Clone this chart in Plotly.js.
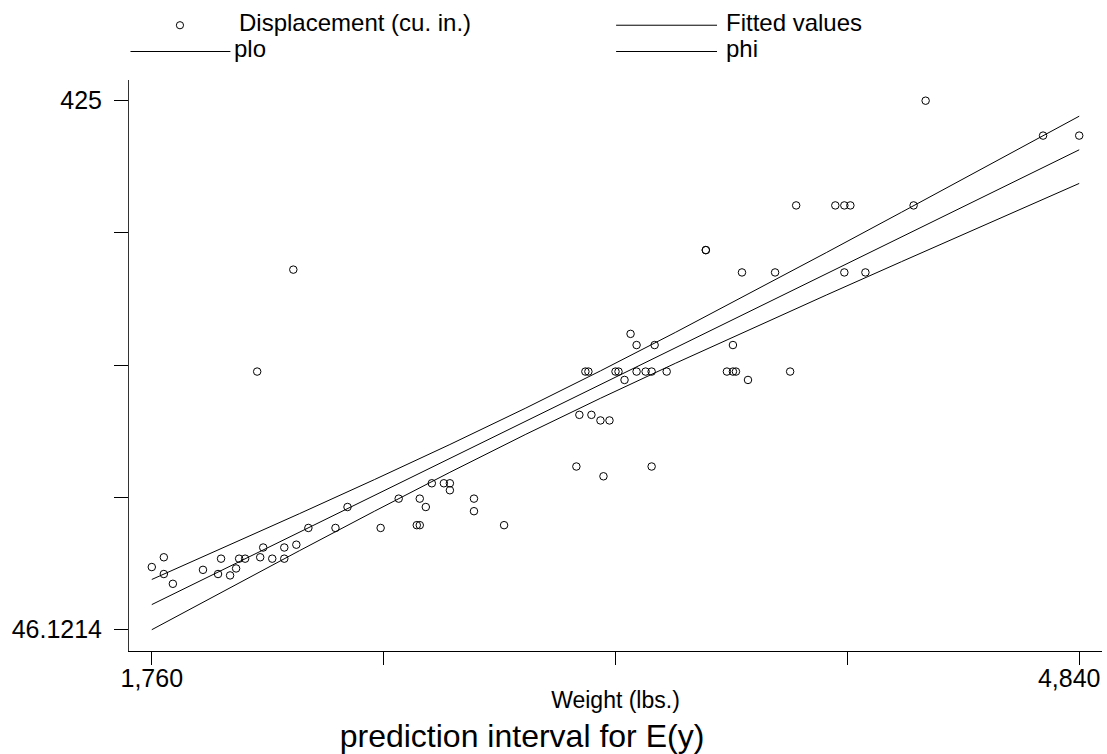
<!DOCTYPE html>
<html><head><meta charset="utf-8">
<script src="https://cdn.plot.ly/plotly-3.0.1.min.js"></script>
<style>html,body{margin:0;padding:0;background:#fff}#chart{width:1107px;height:754px}</style>
</head><body><div id="chart"></div>
<script>
// ---- data (auto: weight vs displacement) ----
const weight = [2930,3350,2640,3250,4080,3670,2230,3280,3880,3400,
  4330,3900,4290,2110,3690,3180,3220,2750,3430,2120,
  3600,3600,3740,1800,2650,4720,4840,3830,2580,4060,
  3720,3370,4130,2830,4060,3310,3300,3690,3370,2730,
  4030,3260,1800,2200,2520,3330,3700,3470,3210,3200,
  3420,2690,2830,2070,2650,2370,2020,2280,2750,2130,
  2240,1760,1980,3420,1830,2050,2410,2200,2670,2160,
  2040,1930,1990,3170];
const displacement = [121,258,121,196,350,231,304,196,231,231,
  425,350,350,231,250,200,200,151,250,98,
  318,318,225,98,140,400,400,302,140,302,
  302,250,302,140,350,231,231,231,231,151,
  350,156,86,105,119,225,231,231,231,231,
  231,151,131,97,121,119,85,119,146,105,
  107,91,86,163,79,97,134,97,134,97,
  90,89,97,163];
const lineWeight   = [1760,2000,2250,2500,2750,3000,3250,3500,3750,4000,4250,4500,4840];
const fittedValues = [64.11,89.49,115.93,142.37,168.80,195.24,221.68,248.11,274.55,300.99,327.43,353.87,389.82];
const plo          = [46.12,73.92,102.66,131.04,158.84,185.84,211.87,237.04,261.61,285.79,309.74,333.53,365.74];
const phi          = [82.10,105.06,129.20,153.70,178.76,204.64,231.49,259.18,287.49,316.19,345.12,374.21,413.90];
const xTickVals = [1760,2530,3300,4070,4840];
const xTickText = ['1,760','','','','4,840'];
const yTickVals = [46.1214,140.8411,235.5607,330.2804,425];
const yTickText = ['46.1214','','','','425'];
const seriesNames = ['Displacement (cu. in.)','Fitted values','plo','phi'];

// ---- layout geometry ----
const W = 1107, H = 754;
const plotL = 128.5, plotR = 1102.3, plotT = 80, plotB = 651.3;
const xRange = [1684.3, 4915.7];
const px = x => (x - plotL) / (plotR - plotL);
const py = y => (plotB - y) / (plotB - plotT);
const FONT = 'Liberation Sans, Arial, Helvetica, sans-serif';
const lineStyle = {color: '#000', width: 1};
const tickFont = {family: FONT, size: 25, color: '#000'};

const traces = [
  {type:'scatter', mode:'markers', x: weight, y: displacement, name: seriesNames[0],
   marker:{symbol:'circle-open', size:7.5, color:'#000', line:{width:1, color:'#000'}}},
  {type:'scatter', mode:'lines', x: lineWeight, y: fittedValues, name: seriesNames[1], line: lineStyle},
  {type:'scatter', mode:'lines', x: lineWeight, y: plo, name: seriesNames[2], line: lineStyle},
  {type:'scatter', mode:'lines', x: lineWeight, y: phi, name: seriesNames[3], line: lineStyle, xaxis: 'x2'}
];

// manual Stata-style legend
const row1 = 25.2, row2 = 51.5;
const shapes = [
  {type:'circle', xref:'paper', yref:'paper', xsizemode:'pixel', ysizemode:'pixel',
   xanchor: px(179.5), yanchor: py(row1), x0:-3.6, x1:3.6, y0:-3.6, y1:3.6,
   line:{color:'#000', width:1}},
  {type:'line', xref:'paper', yref:'paper', x0:px(616), x1:px(717), y0:py(row1), y1:py(row1), line: lineStyle},
  {type:'line', xref:'paper', yref:'paper', x0:px(130), x1:px(230), y0:py(row2), y1:py(row2), line: lineStyle},
  {type:'line', xref:'paper', yref:'paper', x0:px(616), x1:px(717), y0:py(row2), y1:py(row2), line: lineStyle}
];
const legText = (t, x, y) => ({text: t, xref:'paper', yref:'paper', x: px(x), y: py(y),
  xanchor:'left', yanchor:'middle', showarrow:false, borderpad:0,
  font:{family:FONT, size:24, color:'#000'}});
const annotations = [
  legText(seriesNames[0], 238, row1 - 2.6),
  legText(seriesNames[1], 725, row1 - 2.6),
  legText(seriesNames[2], 233, row2 - 2.6),
  legText(seriesNames[3], 725, row2 - 2.6)
];

const layout = {
  width: W, height: H,
  margin: {l: plotL, r: W - plotR, t: plotT, b: H - plotB, pad: 0},
  paper_bgcolor: '#fff', plot_bgcolor: '#fff',
  font: {family: FONT, color: '#000'},
  showlegend: false,
  title: {text: 'prediction interval for E(y)', font: {family: FONT, size: 32, color: '#000'},
          xref: 'container', yref: 'container', x: 522 / W, xanchor: 'center', y: 1 - 736 / H, yanchor: 'middle'},
  xaxis: {range: xRange, tickmode: 'array', tickvals: xTickVals,
          ticktext: xTickText.map((t, i) => i === xTickText.length - 1 ? '' : t),
          ticks: 'outside', ticklen: 13, tickwidth: 1, tickcolor: '#000', ticklabelstandoff: -8,
          showline: true, linecolor: '#000', linewidth: 1, showgrid: false, zeroline: false,
          tickfont: tickFont,
          title: {text: 'Weight (lbs.)', font: {family: FONT, size: 23, color: '#000'}, standoff: 0}},
  // overlay axis carrying the right-hand tick label, pulled inside the graph as Stata does
  xaxis2: {overlaying: 'x', anchor: 'y', side: 'bottom', range: xRange, tickmode: 'array',
           tickvals: [xTickVals[xTickVals.length - 1]], ticktext: [xTickText[xTickText.length - 1]],
           ticks: 'outside', ticklen: 13, tickwidth: 1, tickcolor: '#000', ticklabelstandoff: -8,
           ticklabelshift: -10, ticklabeloverflow: 'allow',
           showline: false, showgrid: false, zeroline: false, tickfont: tickFont},
  yaxis: {range: [30.87, 439.82], tickmode: 'array', tickvals: yTickVals, ticktext: yTickText,
          ticks: 'outside', ticklen: 14, tickwidth: 1, tickcolor: '#000', ticklabelstandoff: 7,
          showline: true, linecolor: '#333', linewidth: 1, showgrid: false, zeroline: false,
          tickfont: tickFont},
  shapes: shapes,
  annotations: annotations
};

Plotly.newPlot('chart', traces, layout, {staticPlot: true, displayModeBar: false});
</script>
</body></html>
